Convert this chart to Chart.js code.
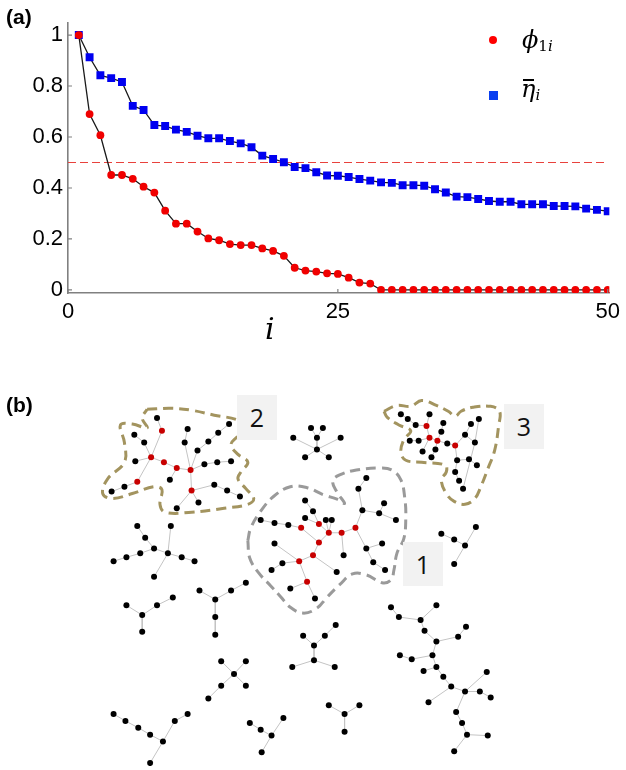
<!DOCTYPE html>
<html>
<head>
<meta charset="utf-8">
<script src="https://cdn.jsdelivr.net/npm/chart.js@4.4.1/dist/chart.umd.min.js"></script>
<style>
	html, body { margin: 0; padding: 0; background: #fff; }
	#wrap { position: relative; width: 626px; height: 770px; overflow: hidden; font-family: "Liberation Sans", Arial, sans-serif; }
	canvas { position: absolute; left: 0; }
	.tag { position: absolute; font-weight: bold; font-size: 21px; line-height: 21px; color: #000; }
	.math { position: absolute; font-family: "DejaVu Serif", serif; font-style: italic; font-size: 24px; line-height: 24px; color: #000; white-space: nowrap; }
	.math .sub { font-size: 15px; position: relative; }
	.math .up { font-style: normal; }
	.mark { position: absolute; }
	.box { position: absolute; background: #f2f2f2; color: #111; font-family: "Open Sans", "Noto Sans", sans-serif; font-size: 25px; text-align: center; }
</style>
</head>
<body>
<div id="wrap">
	<canvas id="chartB" width="626" height="400" style="top:370px"></canvas>
	<canvas id="chartA" width="626" height="345" style="top:0"></canvas>

	<div class="tag" style="left:6px;top:6px">(a)</div>
	<div class="tag" style="left:6px;top:394px">(b)</div>

	<!-- legend of panel (a) -->
	<div class="mark" style="left:489px;top:36px;width:8px;height:8px;border-radius:50%;background:#f00"></div>
	<div class="math" style="left:522px;top:28px">&#x3D5;<span class="sub" style="top:3px"><span class="up">1</span>i</span></div>
	<div class="mark" style="left:489px;top:91px;width:9px;height:9px;background:#0a3ff0"></div>
	<div class="mark" style="left:523px;top:79px;width:11px;height:1.6px;background:#000"></div>
	<div class="math" style="left:521px;top:77px">&#x3B7;<span class="sub" style="top:3px">i</span></div>

	<div class="math" style="left:265px;top:314px;font-size:30px;line-height:30px">i</div>

	<!-- cluster labels of panel (b) -->
	<div class="box" style="left:237px;top:395px;width:40px;height:45px;line-height:45px">2</div>
	<div class="box" style="left:504px;top:404px;width:40px;height:45px;line-height:45px">3</div>
	<div class="box" style="left:403px;top:542px;width:40px;height:44px;line-height:44px">1</div>
</div>

<script>
// ---- panel (a) data ----
const nodeIndex = [
	1, 2, 3, 4, 5, 6, 7, 8, 9, 10, 11, 12, 13, 14, 15, 16, 17, 18, 19, 20, 21, 22, 23, 24, 25,
	26, 27, 28, 29, 30, 31, 32, 33, 34, 35, 36, 37, 38, 39, 40, 41, 42, 43, 44, 45, 46, 47, 48, 49, 50,
];
const phi1 = [
	1.0, 0.690, 0.607, 0.451, 0.451, 0.436, 0.405, 0.382, 0.311, 0.260,
	0.260, 0.229, 0.202, 0.195, 0.180, 0.176, 0.176, 0.163, 0.153, 0.134,
	0.087, 0.076, 0.072, 0.065, 0.063, 0.048, 0.029, 0.025, 0, 0,
	0, 0, 0, 0, 0, 0, 0, 0, 0, 0,
	0, 0, 0, 0, 0, 0, 0, 0, 0, 0,
];
const etaBar = [
	1.0, 0.913, 0.842, 0.831, 0.816, 0.722, 0.706, 0.647, 0.643, 0.629,
	0.620, 0.605, 0.595, 0.595, 0.584, 0.575, 0.560, 0.527, 0.514, 0.501,
	0.482, 0.478, 0.462, 0.449, 0.448, 0.443, 0.435, 0.429, 0.422, 0.420,
	0.411, 0.411, 0.409, 0.395, 0.382, 0.366, 0.364, 0.357, 0.349, 0.346,
	0.346, 0.336, 0.336, 0.336, 0.329, 0.329, 0.328, 0.319, 0.314, 0.309,
];
const threshold = 0.5;
const yTicks = [ 0, 0.2, 0.4, 0.6, 0.8, 1 ];
const xTicks = [ 0, 25, 50 ];

// ---- panel (b) data: tree edges as chains of node positions (layout units) ----
const linkChains = [
	// cluster 2
	[ [155,415], [160,428], [149,455] ],
	[ [132,432], [142,440], [149,455] ],
	[ [133,459], [149,455] ],
	[ [149,455], [162,460], [175,466], [189,468] ],
	[ [175,466], [168,478] ],
	[ [149,455], [135,480], [122,485], [109,490] ],
	[ [189,468], [196,448], [207,439], [217,430], [228,421] ],
	[ [189,468], [203,462], [216,460], [230,459] ],
	[ [186,426], [183,440], [189,468] ],
	[ [189,468], [190,489], [213,483], [226,489], [239,495] ],
	[ [190,489], [197,501] ],
	[ [190,489], [175,507] ],
	// tree below cluster 2
	[ [135,525], [143,537], [152,548], [166,553], [169,525] ],
	[ [152,548], [138,553], [124,557], [111,561] ],
	[ [166,553], [180,557], [193,561] ],
	[ [166,553], [152,577] ],
	// star
	[ [311,425], [317,435], [317,447] ],
	[ [323,425], [317,435] ],
	[ [293,435], [317,447], [341,435] ],
	[ [305,455], [317,447], [329,455] ],
	// cluster 1
	[ [367,476], [359,487], [363,509], [356,527], [342,532], [329,532] ],
	[ [363,509], [380,512], [385,502] ],
	[ [380,512], [397,519] ],
	[ [326,519], [329,532], [332,519] ],
	[ [329,532], [319,523], [313,510], [305,499] ],
	[ [319,523], [305,517] ],
	[ [329,532], [319,542], [301,527], [288,524], [274,522], [260,519] ],
	[ [319,542], [313,555], [337,572] ],
	[ [313,555], [299,561], [282,563], [271,570] ],
	[ [299,561], [274,543] ],
	[ [299,561], [307,582], [290,589] ],
	[ [307,582], [315,599] ],
	[ [342,532], [344,555] ],
	[ [356,527], [367,548], [383,543] ],
	[ [367,548], [374,562], [386,570] ],
	// cluster 3
	[ [402,411], [409,416], [417,422], [428,423], [431,411] ],
	[ [428,423], [431,435], [420,438], [411,438] ],
	[ [431,435], [424,449] ],
	[ [431,435], [439,438], [443,429], [445,420] ],
	[ [439,438], [437,447], [433,455] ],
	[ [439,438], [449,441], [457,443], [467,432], [473,421] ],
	[ [467,432], [477,440], [481,416] ],
	[ [457,443], [459,458], [471,457], [479,463] ],
	[ [459,458], [457,470], [461,479] ],
	[ [465,487], [477,440] ],
	// other trees
	[ [443,533], [456,539], [467,545], [478,526] ],
	[ [467,545], [456,564] ],
	[ [124,606], [140,616], [155,606], [171,598] ],
	[ [140,616], [140,633] ],
	[ [198,591], [214,600], [230,591], [245,583] ],
	[ [214,600], [214,618], [214,636] ],
	[ [220,663], [233,676], [245,688] ],
	[ [245,663], [233,676], [220,688], [207,701] ],
	[ [111,717], [123,724], [136,731], [148,738], [161,745], [173,724], [186,717] ],
	[ [161,745], [148,767] ],
	[ [249,726], [260,733], [271,739], [283,721] ],
	[ [271,739], [261,756] ],
	[ [336,626], [325,637], [314,647], [303,637] ],
	[ [314,647], [314,662], [292,669] ],
	[ [314,662], [335,669] ],
	[ [329,708], [345,717], [360,708] ],
	[ [345,717], [345,735] ],
	[ [392,608], [400,618], [422,621], [438,606] ],
	[ [422,621], [426,632], [438,643], [460,638], [468,628] ],
	[ [438,643], [434,657], [413,661], [401,657] ],
	[ [434,657], [438,669], [425,673] ],
	[ [438,669], [445,679], [453,689], [430,705] ],
	[ [453,689], [467,694], [489,674] ],
	[ [467,694], [482,694], [493,700] ],
	[ [467,694], [458,715], [464,726], [469,738], [490,739] ],
	[ [469,738], [456,755] ],
];

// nodes with high phi (drawn red)
const coreNodes = [
	[160,428], [149,455], [162,460], [175,466], [189,468], [135,480], [190,489],
	[356,527], [342,532], [329,532], [319,523], [319,542], [301,527], [313,555], [299,561], [307,582],
	[428,423], [431,435], [439,438], [457,443],
];

// hand-drawn cluster outlines
const outline1 = [
	[247,540], [250,527], [260,510], [273,495], [290,485], [307,486], [323,493], [338,498], [345,502],
	[337,490], [333,479], [340,473], [357,468], [380,466], [393,468], [402,478], [406,497], [407,517],
	[405,538], [398,553], [395,570], [392,580], [383,583], [367,575], [353,574], [340,585], [327,598],
	[317,609], [303,614], [290,608], [280,597], [270,586], [258,573], [249,558], [247,540],
];
const outline2 = [
	[145,406], [170,405], [190,407], [213,412], [237,417], [242,423], [237,433], [230,442], [237,452],
	[247,460], [240,470], [237,477], [245,487], [253,497], [247,503], [223,507], [190,511], [163,511],
	[158,503], [160,488], [152,485], [130,492], [110,497], [100,492], [105,477], [122,460], [122,440],
	[118,422], [130,421], [145,425], [140,415], [145,406],
];
const outline3 = [
	[385,408], [398,402], [412,403], [423,397], [438,402], [450,408], [457,413], [463,408], [475,404],
	[493,403], [502,408], [501,423], [497,448], [490,467], [483,485], [477,497], [467,503], [456,500],
	[448,492], [443,478], [448,470], [447,463], [423,460], [407,458], [402,450], [405,437], [412,428],
	[400,422], [388,414], [385,408],
];

const axisColor = '#808080';

// Inward tick marks, like the original plot.
const inwardTicks = {
	id: 'inwardTicks',
	afterDraw( chart ) {
		const { ctx, chartArea, scales } = chart;
		ctx.save();
		ctx.strokeStyle = axisColor;
		ctx.lineWidth = 1.2;
		ctx.beginPath();
		yTicks.forEach( ( v ) => {
			const py = scales.y.getPixelForValue( v );
			ctx.moveTo( chartArea.left, py );
			ctx.lineTo( chartArea.left + 4, py );
		} );
		xTicks.forEach( ( v ) => {
			const px = scales.x.getPixelForValue( v );
			ctx.moveTo( px, chartArea.bottom );
			ctx.lineTo( px, chartArea.bottom - 4 );
		} );
		ctx.stroke();
		ctx.restore();
	},
};

const tickFont = { family: '"Liberation Sans", Arial, sans-serif', size: 22 };

new Chart( document.getElementById( 'chartA' ), {
	type: 'scatter',
	data: {
		datasets: [
			{
				label: 'phi_1i',
				data: nodeIndex.map( ( i, k ) => ( { x: i, y: phi1[ k ] } ) ),
				showLine: true,
				borderColor: '#1a1a1a',
				borderWidth: 1.3,
				pointStyle: 'circle',
				pointRadius: 3.9,
				pointBorderWidth: 0,
				pointBackgroundColor: '#f00000',
				order: 0,
			},
			{
				label: 'eta_i',
				data: nodeIndex.map( ( i, k ) => ( { x: i, y: etaBar[ k ] } ) ),
				showLine: true,
				borderColor: '#1a1a1a',
				borderWidth: 1.3,
				pointStyle: 'rect',
				pointRadius: 5.6,
				pointBorderWidth: 0,
				pointBackgroundColor: '#0000f0',
				order: 1,
			},
			{
				label: 'threshold',
				data: [ { x: xTicks[ 0 ], y: threshold }, { x: xTicks[ xTicks.length - 1 ], y: threshold } ],
				showLine: true,
				borderColor: '#e8413c',
				borderWidth: 1.2,
				borderDash: [ 8, 4 ],
				pointRadius: 0,
				order: 2,
			},
		],
	},
	plugins: [ inwardTicks ],
	options: {
		responsive: false,
		animation: false,
		layout: { padding: { top: 22.3, right: 14.4, left: 0, bottom: 0 } },
		plugins: { legend: { display: false }, tooltip: { enabled: false } },
		scales: {
			x: {
				type: 'linear',
				min: 0,
				max: 50.15,
				afterBuildTicks: ( s ) => { s.ticks = xTicks.map( ( v ) => ( { value: v } ) ); },
				afterFit: ( s ) => { s.height = 52; },
				grid: { display: false, drawTicks: false },
				border: { color: axisColor, width: 1.6 },
				ticks: { font: tickFont, color: '#000', padding: 6, maxRotation: 0, autoSkip: false },
			},
			y: {
				type: 'linear',
				min: -0.012,
				max: 1.05,
				afterBuildTicks: ( s ) => { s.ticks = yTicks.map( ( v ) => ( { value: v } ) ); },
				afterFit: ( s ) => { s.width = 68; },
				grid: { display: false, drawTicks: false },
				border: { color: axisColor, width: 1.6 },
				ticks: { font: tickFont, color: '#000', padding: 5, callback: ( v ) => String( v ) },
			},
		},
	},
} );

// ---- panel (b) ----
const edgePoints = [];
const seen = new Set();
const plainNodes = [];
const coreKeys = new Set( coreNodes.map( ( p ) => p.join( ',' ) ) );
linkChains.forEach( ( chain ) => {
	chain.forEach( ( [ x, y ] ) => {
		edgePoints.push( { x, y } );
		const key = x + ',' + y;
		if ( ! seen.has( key ) ) {
			seen.add( key );
			if ( ! coreKeys.has( key ) ) {
				plainNodes.push( { x, y } );
			}
		}
	} );
	edgePoints.push( { x: null, y: null } );
} );
const toXY = ( list ) => list.map( ( [ x, y ] ) => ( { x, y } ) );

const outlineStyle = ( color ) => ( {
	showLine: true,
	borderColor: color,
	borderWidth: 3,
	borderDash: [ 10, 6 ],
	tension: 0.4,
	pointRadius: 0,
	order: 2,
} );

new Chart( document.getElementById( 'chartB' ), {
	type: 'scatter',
	data: {
		datasets: [
			{ label: 'core', data: toXY( coreNodes ), pointRadius: 3, pointBorderWidth: 0, pointBackgroundColor: '#c80000', order: 0 },
			{ label: 'nodes', data: plainNodes, pointRadius: 3, pointBorderWidth: 0, pointBackgroundColor: '#000', order: 1 },
			{ label: 'cluster 1', data: toXY( outline1 ), ...outlineStyle( '#9a9a9a' ) },
			{ label: 'cluster 2', data: toXY( outline2 ), ...outlineStyle( '#a3945f' ) },
			{ label: 'cluster 3', data: toXY( outline3 ), ...outlineStyle( '#a3945f' ) },
			{ label: 'links', data: edgePoints, showLine: true, spanGaps: false, borderColor: '#c4c4c4', borderWidth: 1, pointRadius: 0, order: 3 },
		],
	},
	options: {
		responsive: false,
		animation: false,
		layout: { padding: 0 },
		plugins: { legend: { display: false }, tooltip: { enabled: false } },
		scales: {
			x: { type: 'linear', min: 0, max: 626, display: false },
			y: { type: 'linear', min: 370, max: 770, reverse: true, display: false },
		},
	},
} );
</script>
</body>
</html>
